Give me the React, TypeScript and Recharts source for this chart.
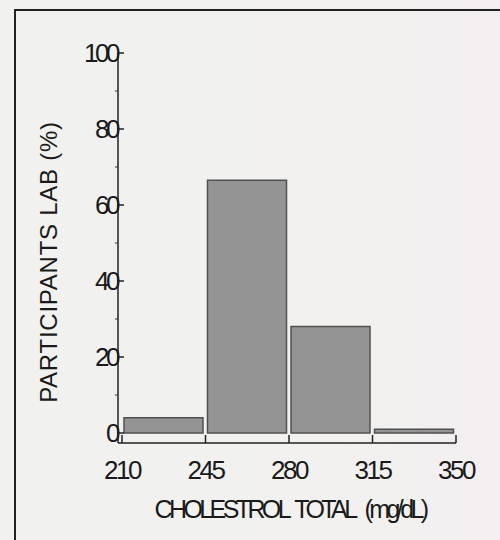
import React from 'react';
import { BarChart, Bar, XAxis, YAxis } from 'recharts';

const binMids = [227.5, 262.5, 297.5, 332.5];
const participants = [4, 66.5, 28, 1];
const xTicks = [210, 245, 280, 315, 350];
const yTicks = [0, 10, 20, 30, 40, 50, 60, 70, 80, 90, 100];

const data = binMids.map((mid, i) => ({ mid, pct: participants[i] }));

const tickFont = '"Liberation Sans", Arial, sans-serif';

const YTick = (props: any) => {
    const { x, y, payload } = props;
    const major = payload.value % 20 === 0;
    const ax = x + 8;
    if (!major) {
        return <line x1={ax - 3} y1={y} x2={ax} y2={y} stroke="#333" strokeWidth={1} />;
    }
    return (
        <g>
            <line x1={ax} y1={y} x2={ax + 6} y2={y} stroke="#222" strokeWidth={1.5} />
            <text x={ax - 1} y={y + 9} textAnchor="end" fontFamily={tickFont} fontSize={26} letterSpacing={-3.5} fill="#1a1a1a">
                {payload.value}
            </text>
        </g>
    );
};

const XTick = (props: any) => {
    const { x, payload } = props;
    return (
        <g>
            <line x1={x} y1={443} x2={x} y2={435} stroke="#222" strokeWidth={1.5} />
            <text x={x} y={479} textAnchor="middle" fontFamily={tickFont} fontSize={26} letterSpacing={-2.5} fill="#1a1a1a">
                {payload.value}
            </text>
        </g>
    );
};

const YLabel = () => (
    <text
        transform="translate(57, 262) rotate(-90)"
        textAnchor="middle"
        fontFamily='"Liberation Sans", Arial, sans-serif'
        fontSize={24}
        letterSpacing={0.75}
        fill="#1a1a1a"
    >
        PARTICIPANTS LAB (%)
    </text>
);

const XLabel = () => (
    <text
        x={290}
        y={518}
        textAnchor="middle"
        fontFamily={tickFont}
        fontSize={25}
        letterSpacing={-3.6}
        fill="#1a1a1a"
    >
        {'CHOLESTROL\u00A0 TOTAL\u00A0\u00A0 (mg/dL)'}
    </text>
);

export default function App() {
    return (
        <div
            style={{
                position: 'absolute',
                left: 0,
                top: 0,
                width: 500,
                height: 540,
                overflow: 'hidden',
                background: 'linear-gradient(90deg, #f1f1ef 0%, #f2f1ef 70%, #f4eef1 100%)',
            }}
        >
            <div
                style={{
                    position: 'absolute',
                    left: 14,
                    top: 9,
                    width: 520,
                    height: 560,
                    borderTop: '2px solid #222',
                    borderLeft: '2px solid #222',
                }}
            />
            <div style={{ position: 'absolute', left: 0, top: 0 }}>
                <BarChart
                    width={500}
                    height={540}
                    data={data}
                    margin={{ top: 53, right: 44, bottom: 0, left: 38 }}
                    barCategoryGap={2}
                >
                    <XAxis
                        dataKey="mid"
                        type="number"
                        domain={[210, 350]}
                        ticks={xTicks}
                        padding={{ left: 4, right: 0 }}
                        height={97}
                        axisLine={{ stroke: '#222', strokeWidth: 1.5 }}
                        tickLine={false}
                        tick={<XTick />}
                        interval={0}
                        label={<XLabel />}
                    />
                    <YAxis
                        type="number"
                        domain={[0, 100]}
                        ticks={yTicks}
                        width={80}
                        padding={{ top: 0, bottom: 10 }}
                        axisLine={{ stroke: '#222', strokeWidth: 1.5 }}
                        tickLine={false}
                        tick={<YTick />}
                        interval={0}
                        label={<YLabel />}
                    />
                    <Bar
                        dataKey="pct"
                        fill="#949494"
                        stroke="#505050"
                        strokeWidth={1.5}
                        barSize={79}
                        isAnimationActive={false}
                    />
                </BarChart>
            </div>
        </div>
    );
}
